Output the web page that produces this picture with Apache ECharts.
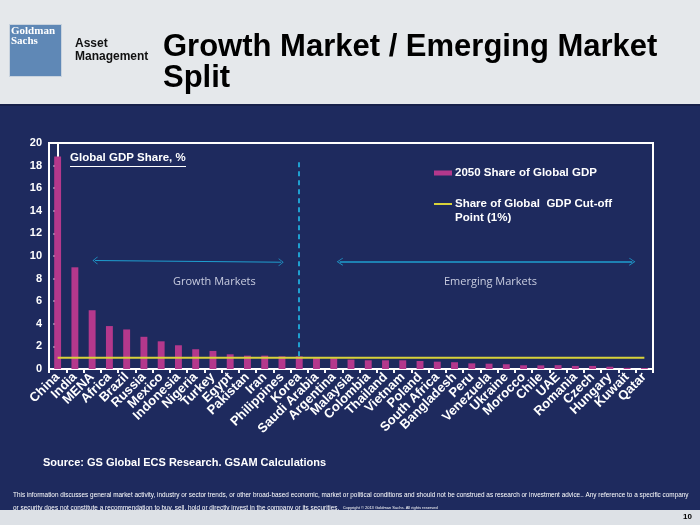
<!DOCTYPE html>
<html><head><meta charset="utf-8">
<script src="https://cdn.jsdelivr.net/npm/echarts@6/dist/echarts.min.js"></script>
<style>html,body{margin:0;padding:0;background:#1e2a5e}#c{width:700px;height:525px}</style>
</head><body><div id="c"></div>
<script>
const categories = ['China','India','MENA','Africa','Brazil','Russia','Mexico','Indonesia','Nigeria','Turkey','Egypt','Pakistan','Iran','Philippines','Korea','Saudi Arabia','Argentina','Malaysia','Colombia','Thailand','Vietnam','Poland','South Africa','Bangladesh','Peru','Venezuela','Ukraine','Morocco','Chile','UAE','Romania','Czech','Hungary','Kuwait','Qatar'];
const shareValues = [18.8, 9.0, 5.2, 3.8, 3.5, 2.85, 2.45, 2.1, 1.75, 1.6, 1.3, 1.18, 1.18, 1.12, 1.12, 0.98, 0.95, 0.83, 0.77, 0.77, 0.77, 0.71, 0.65, 0.6, 0.5, 0.47, 0.42, 0.33, 0.32, 0.34, 0.27, 0.27, 0.2, 0.1, 0.08];
const cutoffValue = 1;
const cutoffValues = categories.map(() => cutoffValue);
const seriesNames = ['2050 Share of Global GDP', 'Share of Global  GDP Cut-off'];

const NAVY = '#1e2a5e', BAR = '#b4388c', YEL = '#d8d23a', ARW = '#1f9fd0';
const chev = 'path://M0,10 L5,0 L10,10 L9,10 L5,2 L1,10 Z';
const chart = echarts.init(document.getElementById('c'), null, {renderer:'canvas'});
const F = 'Liberation Sans, Arial, sans-serif';
chart.setOption({
  backgroundColor: NAVY,
  animation: false,
  grid: {left: 49, right: 47, top: 143, bottom: 156, show: true, borderColor: '#ffffff', borderWidth: 2, backgroundColor: 'transparent'},
  legend: [{
    data: [{name: seriesNames[0], icon: 'rect', itemStyle: {color: BAR}}], orient: 'vertical', left: 429, top: 162,
    itemWidth: 18, itemHeight: 5, itemGap: 10,
    textStyle: {color: '#ffffff', fontFamily: F, fontWeight: 'bold', fontSize: 11.5, padding: [0,0,0,-2]}
  },{
    data: [{name: seriesNames[1], icon: 'rect', itemStyle: {color: YEL}}], orient: 'vertical', left: 429, top: 193,
    itemWidth: 18, itemHeight: 2, itemGap: 10,
    textStyle: {color: '#ffffff', fontFamily: F, fontWeight: 'bold', fontSize: 11.5, padding: [0,0,0,-2]}
  }],
  xAxis: [{
    type: 'category', data: categories, boundaryGap: true,
    axisLine: {lineStyle: {color: '#ffffff', width: 2}},
    axisTick: {show: true, inside: false, length: 4, lineStyle: {color: '#ffffff', width: 2}},
    axisLabel: {rotate: 45, interval: 0, color: '#ffffff', fontFamily: F, fontWeight: 'bold', fontSize: 13, margin: 6}
  },{
    type: 'value', min: -0.5, max: 34.5, show: false
  }],
  yAxis: {
    type: 'value', min: 0, max: 20, interval: 2,
    axisLine: {show: true, lineStyle: {color: '#ffffff', width: 2}},
    axisTick: {show: true, inside: false, length: 4, lineStyle: {color: '#ffffff', width: 2}},
    splitLine: {show: false},
    axisLabel: {color: '#ffffff', fontFamily: F, fontWeight: 'bold', fontSize: 11, margin: 7}
  },
  series: [{
    name: seriesNames[0], type: 'bar', data: shareValues, barWidth: '40%',
    itemStyle: {color: BAR}
  },{
    name: seriesNames[1], type: 'line', data: cutoffValues, symbol: 'none',
    lineStyle: {color: YEL, width: 2}, itemStyle: {color: YEL}, z: 3
  },{
    name: 'annot', type: 'scatter', xAxisIndex: 1, data: [[0, -5]], symbolSize: 0, silent: true,
    markLine: {
      silent: true, animation: false, label: {show: false},
      data: [
        [{coord: [13.95, 18.3], symbol: 'none', lineStyle: {type: [5,4], color: ARW, width: 2}}, {coord: [13.95, 0.8], symbol: 'none'}],
        [{coord: [2.17, 9.6], symbol: chev, symbolSize: [8, 5], lineStyle: {type: 'solid', color: ARW, width: 1}}, {coord: [12.95, 9.45], symbol: chev, symbolSize: [8, 5]}],
        [{coord: [16.35, 9.5], symbol: chev, symbolSize: [8, 6], lineStyle: {type: 'solid', color: ARW, width: 1.5}}, {coord: [33.3, 9.5], symbol: chev, symbolSize: [8, 6]}]
      ]
    }
  }],
  graphic: [
    {type: 'rect', left: 0, top: 0, shape: {width: 700, height: 104}, style: {fill: '#e5e8eb'}, silent: true},
    {type: 'rect', left: 0, top: 104, shape: {width: 700, height: 2}, style: {fill: '#17204a'}, silent: true},
    {type: 'rect', left: 9, top: 24, shape: {width: 52, height: 52}, style: {fill: '#5f88b6', stroke: '#c9d3de', lineWidth: 1}},
    {type: 'text', left: 11, top: 26, style: {text: 'Goldman\nSachs', fill: '#ffffff', font: 'bold 11px "Liberation Serif", serif', lineHeight: 10}},
    {type: 'text', left: 75, top: 37, style: {text: 'Asset\nManagement', fill: '#111111', font: 'bold 12px "Liberation Sans", Arial', lineHeight: 13}},
    {type: 'text', left: 163, top: 32, style: {text: 'Growth Market / Emerging Market\nSplit', fill: '#000000', font: 'bold 31px "Liberation Sans", Arial', lineHeight: 31}},
    {type: 'text', left: 70, top: 152, style: {text: 'Global GDP Share, %', fill: '#ffffff', font: 'bold 11.5px "Liberation Sans", Arial'}},
    {type: 'rect', left: 70, top: 166, shape: {width: 116, height: 1}, style: {fill: '#ffffff'}},
    {type: 'text', left: 455, top: 212, style: {text: 'Point (1%)', fill: '#ffffff', font: 'bold 11.5px "Liberation Sans", Arial'}},
    {type: 'text', left: 173, top: 276, style: {text: 'Growth Markets', fill: '#c9cde0', font: '11px "Open Sans", Lato, sans-serif', align: 'center'}},
    {type: 'text', left: 444, top: 276, style: {text: 'Emerging Markets', fill: '#c9cde0', font: '11px "Open Sans", Lato, sans-serif'}},
    {type: 'text', left: 43, top: 457, style: {text: 'Source: GS Global ECS Research. GSAM Calculations', fill: '#ffffff', font: 'bold 11px "Liberation Sans", Arial'}},
    {type: 'text', left: 13, top: 492, style: {text: 'This information discusses general market activity, industry or sector trends, or other broad-based economic, market or political conditions and should not be construed as research or investment advice.. Any reference to a specific company', fill: '#ffffff', font: '6.4px "Liberation Sans", Arial'}},
    {type: 'text', left: 13, top: 502, style: {
      text: '{a|or security does not constitute a recommendation to buy, sell, hold or directly invest in the company or its securities.} {b|Copyright © 2013 Goldman Sachs. All rights reserved}',
      fill: '#ffffff',
      rich: {a: {fill: '#ffffff', font: '6.4px "Liberation Sans", Arial'}, b: {fill: '#ffffff', font: '4px "Liberation Sans", Arial'}}
    }},
    {type: 'rect', left: 0, top: 510, shape: {width: 700, height: 15}, style: {fill: '#dde1e6'}, silent: true},
    {type: 'text', left: 683, top: 513, style: {text: '10', fill: '#000000', font: 'bold 8px "Liberation Sans", Arial'}}
  ]
});
</script></body></html>
